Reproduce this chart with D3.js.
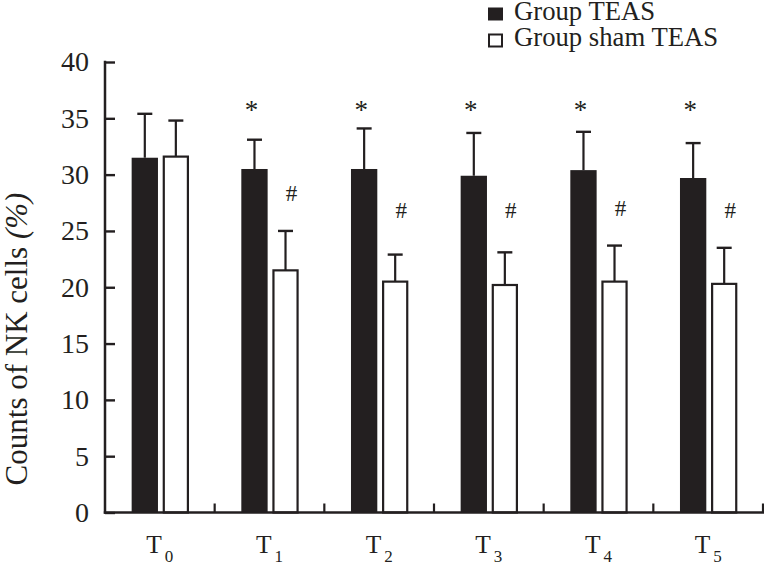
<!DOCTYPE html>
<html>
<head>
<meta charset="utf-8">
<script src="https://cdn.jsdelivr.net/npm/d3@7"></script>
<style>
  html, body { margin: 0; padding: 0; background: #fff; }
  svg { display: block; }
  svg text { font-family: "Liberation Serif", Tinos, "Times New Roman", "DejaVu Serif", serif !important; fill: #231f20; }
</style>
</head>
<body>
<svg id="chart" width="764" height="565"></svg>
<script>
// ---- data ----
const categories = ["0", "1", "2", "3", "4", "5"];          // subscripts of T
const seriesNames = ["Group TEAS", "Group sham TEAS"];
const teasMean = [31.5, 30.5, 30.5, 29.9, 30.4, 29.7];
const teasSD   = [3.9, 2.6, 3.6, 3.8, 3.4, 3.1];
const shamMean = [31.6, 21.5, 20.5, 20.2, 20.5, 20.3];
const shamSD   = [3.2, 3.5, 2.4, 2.9, 3.2, 3.2];
const teasMark = ["", "*", "*", "*", "*", "*"];
const shamMark = ["", "#", "#", "#", "#", "#"];
const yTicks = [0, 5, 10, 15, 20, 25, 30, 35, 40];

// ---- layout ----
const ink = "#231f20";
const FONT = '"Liberation Serif", Tinos, "Times New Roman", "DejaVu Serif", serif';
const svg = d3.select("#chart");
const mLeft = 105, mRight = 763, mTop = 62, mBottom = 512.5;

const y = d3.scaleLinear().domain([0, 40]).range([mBottom, mTop]);
const x = d3.scaleBand().domain(categories).range([mLeft, mRight]).padding(0);
const bw = x.bandwidth();
const x1 = d3.scaleBand().domain(["teas", "sham"])
  .range([bw * 0.243, bw * 0.766]).paddingInner(0.152).paddingOuter(0);
const barW = x1.bandwidth();

const rows = categories.map((c, i) => ({
  c,
  teas: teasMean[i], teasSD: teasSD[i],
  sham: shamMean[i], shamSD: shamSD[i],
  tm: teasMark[i], sm: shamMark[i]
}));

const g = svg.append("g");

rows.forEach(d => {
  const xb = x(d.c) + x1("teas");
  const xw = x(d.c) + x1("sham");
  g.append("rect").attr("x", xb).attr("y", y(d.teas))
    .attr("width", barW).attr("height", y(0) - y(d.teas)).attr("fill", ink);
  g.append("rect").attr("x", xw + 1.1).attr("y", y(d.sham))
    .attr("width", barW - 2.2).attr("height", y(0) - y(d.sham))
    .attr("fill", "#fff").attr("stroke", ink).attr("stroke-width", 2.2);
  [[xb, d.teas, d.teasSD], [xw, d.sham, d.shamSD]].forEach(([bx, m, s]) => {
    const cx = bx + barW / 2;
    g.append("line").attr("x1", cx).attr("x2", cx)
      .attr("y1", y(m)).attr("y2", y(m + s))
      .attr("stroke", ink).attr("stroke-width", 2.2);
    g.append("line").attr("x1", cx - 7.5).attr("x2", cx + 7.5)
      .attr("y1", y(m + s)).attr("y2", y(m + s))
      .attr("stroke", ink).attr("stroke-width", 2.4);
  });
  if (d.tm) {
    g.append("text").attr("x", xb + barW / 2 - 3).attr("y", 119)
      .attr("text-anchor", "middle").attr("font-size", 27).text(d.tm);
  }
  if (d.sm) {
    const errTop = y(d.sham + d.shamSD);
    const cyMark = Math.min(210, errTop - 38);
    g.append("text").attr("x", xw + barW / 2 + 6).attr("y", cyMark + 8)
      .attr("text-anchor", "middle").attr("font-size", 23).text(d.sm);
  }
});

// y axis
const yAxis = d3.axisLeft(y).tickValues(yTicks).tickSize(-10).tickPadding(16)
  .tickFormat(d3.format("d"));
const ya = svg.append("g").attr("transform", `translate(${mLeft},0)`).call(yAxis)
  .attr("font-family", FONT);
ya.select(".domain").remove();
ya.selectAll(".tick line").attr("stroke", ink).attr("stroke-width", 2.4);
ya.selectAll(".tick text").attr("font-size", 28).attr("fill", ink);
svg.append("line").attr("x1", mLeft).attr("x2", mLeft).attr("y1", mTop - 1.2).attr("y2", mBottom + 1.2)
  .attr("stroke", ink).attr("stroke-width", 2.5);

// x axis
svg.append("line").attr("x1", mLeft - 1.2).attr("x2", mRight + 1.2).attr("y1", mBottom).attr("y2", mBottom)
  .attr("stroke", ink).attr("stroke-width", 2.5);
categories.forEach((c) => {
  const bx = x(c) + bw;
  svg.append("line").attr("x1", bx).attr("x2", bx).attr("y1", mBottom).attr("y2", mBottom - 9)
    .attr("stroke", ink).attr("stroke-width", 2.2);
  const t = svg.append("text").attr("x", x(c) + bw / 2).attr("y", 553)
    .attr("text-anchor", "middle").attr("font-size", 25.5);
  t.append("tspan").text("T");
  t.append("tspan").attr("font-size", 17).attr("dy", 9).attr("dx", 3).text(c);
});

// y label
const yl = svg.append("text")
  .attr("transform", "translate(27,339) rotate(-90)")
  .attr("text-anchor", "middle").attr("font-size", 31);
yl.append("tspan").text("Counts of NK cells ");
yl.append("tspan").attr("font-style", "italic").text("(%)");

// legend
const legend = svg.append("g");
seriesNames.forEach((name, i) => {
  const ly = i === 0 ? 7.5 : 33.5;
  legend.append("rect").attr("x", i === 0 ? 488 : 489).attr("y", i === 0 ? ly : ly + 1)
    .attr("width", i === 0 ? 15 : 13).attr("height", i === 0 ? 13 : 12)
    .attr("fill", i === 0 ? ink : "#fff")
    .attr("stroke", i === 0 ? "none" : ink).attr("stroke-width", 2);
  legend.append("text").attr("x", 514).attr("y", ly + 12)
    .attr("font-size", 26.7).text(name);
});
</script>
</body>
</html>
